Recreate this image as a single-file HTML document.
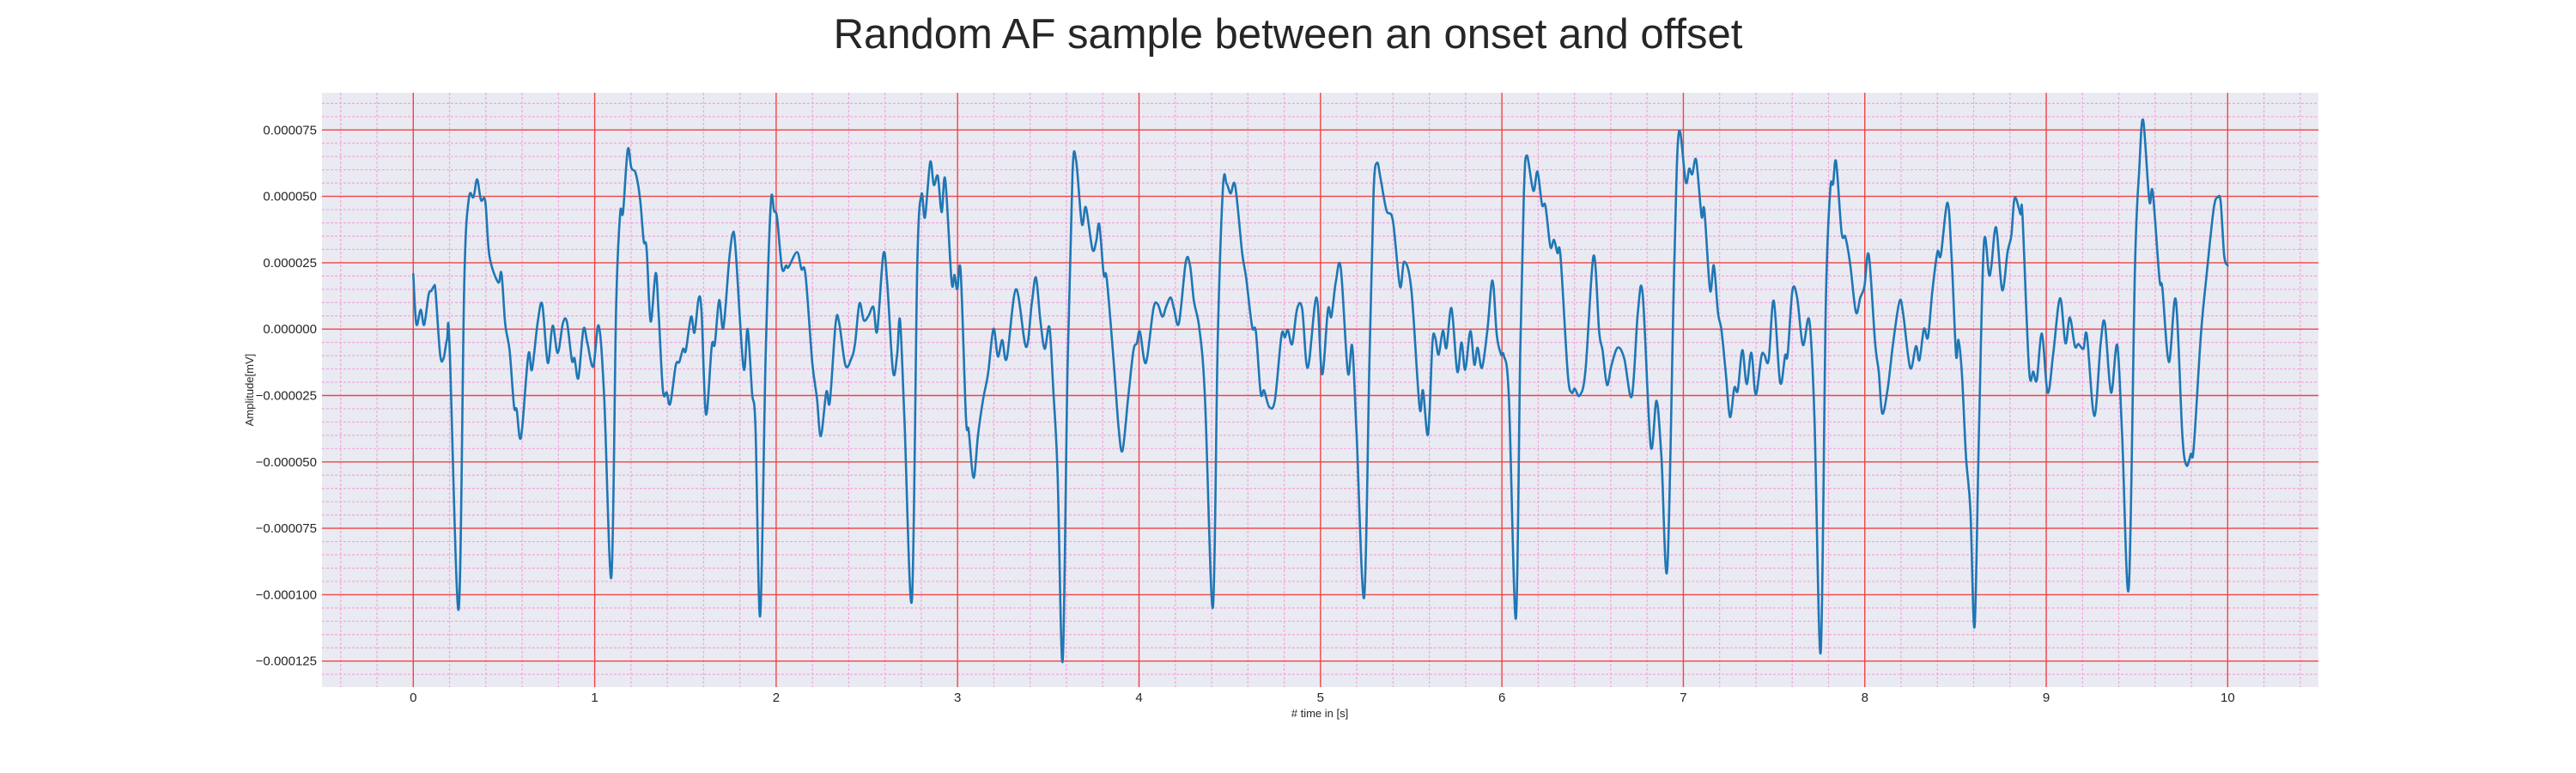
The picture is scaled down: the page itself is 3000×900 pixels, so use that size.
<!DOCTYPE html>
<html><head><meta charset="utf-8"><style>
html,body{margin:0;padding:0;background:#fff;}
svg{display:block;font-family:"Liberation Sans",Arial,sans-serif;}
</style></head><body>
<svg id="chart" width="3000" height="900" viewBox="0 0 3000 900" xmlns="http://www.w3.org/2000/svg">
<text x="1500" y="56" text-anchor="middle" font-size="49" fill="#262626">Random AF sample between an onset and offset</text>
<rect x="375" y="108" width="2325" height="692" fill="#eaeaf2"/>
<g id="grid-minor"></g>
<g id="grid-major"></g>
<g id="series"></g>
<g id="yticks"></g>
<g id="xticks"></g>
<text x="1537" y="835" text-anchor="middle" font-size="13" fill="#262626"># time in [s]</text>
<text transform="translate(295,454) rotate(-90)" text-anchor="middle" font-size="13" fill="#262626">Amplitude[mV]</text>
</svg>
<script>
const times = [0,.017,.041,.06,.085,.1,.114,.123,.148,.167,.186,.2,.25,.281,.306,.332,.352,.373,.397,.42,.468,.486,.507,.531,.555,.57,.594,.634,.654,.686,.711,.741,.768,.796,.825,.847,.874,.889,.91,.938,.96,.992,1.022,1.052,1.092,1.118,1.14,1.156,1.182,1.202,1.226,1.25,1.27,1.286,1.308,1.336,1.352,1.376,1.397,1.416,1.447,1.466,1.487,1.502,1.531,1.55,1.573,1.589,1.613,1.645,
1.662,1.686,1.709,1.741,1.76,1.776,1.82,1.843,1.867,1.886,1.912,1.942,1.97,1.989,2.005,2.032,2.055,2.068,2.115,2.139,2.162,2.199,2.225,2.246,2.277,2.296,2.328,2.347,2.382,2.415,2.435,2.459,2.483,2.509,2.536,2.557,2.591,2.612,2.644,2.667,2.683,2.707,2.748,2.778,2.801,2.82,2.849,2.869,2.891,2.912,2.932,2.967,2.983,2.998,3.017,3.046,3.061,3.088,3.113,3.14,3.168,3.198,3.222,3.246,3.271,
3.322,3.377,3.409,3.432,3.456,3.48,3.506,3.527,3.551,3.579,3.606,3.633,3.653,3.685,3.707,3.743,3.764,3.781,3.805,3.822,3.859,3.887,3.909,3.941,3.969,3.988,4.005,4.038,4.079,4.103,4.129,4.15,4.174,4.193,4.22,4.258,4.281,4.303,4.332,4.363,4.407,4.434,4.463,4.483,4.505,4.53,4.568,4.591,4.623,4.644,4.67,4.689,4.718,4.749,4.785,4.804,4.82,4.844,4.871,4.899,4.93,
4.978,5.009,5.041,5.06,5.085,5.112,5.151,5.175,5.199,5.241,5.27,5.293,5.312,5.332,5.364,5.399,5.438,5.462,5.501,5.546,5.565,5.593,5.617,5.632,5.651,5.675,5.694,5.722,5.754,5.777,5.798,5.826,5.848,5.866,5.89,5.92,5.948,5.972,5.996,6.011,6.038,6.077,6.101,6.121,6.137,6.173,6.196,6.221,6.24,6.267,6.287,6.306,6.323,6.363,6.385,6.401,6.429,6.461,6.505,6.536,6.555,6.579,6.603,
6.638,6.674,6.716,6.749,6.776,6.82,6.852,6.879,6.912,6.95,6.975,7.013,7.032,7.049,7.071,7.1,7.116,7.147,7.168,7.191,7.21,7.234,7.257,7.281,7.3,7.325,7.349,7.375,7.399,7.43,7.446,7.47,7.498,7.533,7.561,7.575,7.601,7.627,7.659,7.694,7.722,7.757,7.785,7.809,7.825,7.842,7.872,7.893,7.919,7.951,7.975,7.998,8.022,8.057,8.077,8.096,8.125,8.156,8.191,8.211,8.25,
8.282,8.301,8.326,8.348,8.372,8.4,8.419,8.456,8.479,8.503,8.516,8.535,8.558,8.582,8.605,8.629,8.656,8.684,8.697,8.724,8.757,8.787,8.808,8.826,8.858,8.869,8.905,8.929,8.948,8.976,9.008,9.039,9.076,9.106,9.13,9.158,9.177,9.205,9.224,9.265,9.3,9.323,9.357,9.391,9.418,9.455,9.489,9.513,9.534,9.568,9.587,9.624,9.64,9.676,9.714,9.75,9.773,9.797,9.813,9.852,9.884,9.923,9.947,9.962,9.981,10.0];
const amplitudesMicro = [20.7,1.9,7.3,1.6,13,14.4,16.1,14,-9.6,-11,-3.9,-6,-105.6,17.6,49,49.7,56.4,48.6,48,27.6,17.6,21,1.9,-8.1,-28.9,-30.3,-40.7,-9.6,-15.3,2.6,9.3,-12.7,1.3,-9,2.3,2.6,-11.7,-11,-18.4,0,-5.3,-14.1,1.3,-25.3,-93.4,7.6,43.3,44,67.6,60.7,58.7,49,33.3,30.4,2.9,21.1,6.1,-23.1,-23.9,-28.1,-13.6,-12.4,-7.4,-8.1,4.7,-1.3,11.6,6.1,-32.1,-6.4,
-5.6,10.9,0.4,26.1,35.9,30.4,-14.6,0,-23.9,-36.7,-108,-11,47,44.4,41.9,23,24,23.3,29,22.6,20.4,-12.4,-26,-40.3,-23.6,-27.4,2.3,2.6,-13.6,-11,-5.3,9.7,3.3,5,8.3,-0.7,28.3,17.6,-16,-9.6,3.3,-33.9,-102,24.7,50.7,42.1,62.9,54.3,57.6,44,56.4,18,20.4,15,21.6,-33.1,-38.1,-56,-39.6,-26.7,-16.7,0.1,-10.3,-4.1,-11,
15,-6.7,9.7,19.4,3.3,-7.4,0.7,-22.4,-53.9,-124.9,-13.9,58.3,63.6,39.7,45.9,30.1,33,39.4,20.7,19,-11,-36.7,-45.7,-25.3,-8.1,-5.3,-1,-12.7,7.6,9.4,4.7,8.6,11.9,7.6,2.3,25.4,24,10.4,0.4,-25.3,-104.9,-3.9,53.6,54.7,51.1,54,29,19,0.9,-1,-23.9,-23.1,-29.3,-26.7,-2.4,-3.1,-0.3,-5.6,7.6,7.6,-14.6,
11.9,-17,7.3,4.7,18,22.9,-16.3,-6.4,-39.6,-101,-11,51.9,62.6,56.4,44.7,40.9,16.1,25.4,14.7,-29.3,-23.1,-39.6,-5.3,-3.1,-9.6,-0.6,-7.1,7.9,-16,-5,-15.3,-0.7,-13.4,-7,-14.6,-0.3,18.3,-2.4,-9.6,-10,-25.3,-109,-8.1,51.1,65.4,52.1,59.3,46.9,46.4,31.1,33.6,28.7,27.3,-16.7,-23.9,-22.4,-25,-15.3,27.6,-1,-8.1,-21,-13.9,
-7,-11,-25.3,6.1,13,-43.9,-27,-48.1,-89.9,24.7,74,55.4,60.4,58.3,63.6,42.6,44.7,14.7,24,6.1,-0.3,-16.7,-33.1,-22.1,-23.1,-7.9,-20.7,-8.9,-24.6,-10.3,-9.6,-11.7,10.7,-20,-9.9,-9.6,14.4,11.9,-6,3.3,-32.4,-121.7,9,51.9,54.7,63,36.4,34.7,24.7,6.4,11.9,16.1,27.9,-5.3,-16,-31.7,-23.1,-5.3,10.4,6.1,-14.6,
-6.4,-11.7,0.1,-3.1,14,29,27.9,47.6,26.1,-9.6,-4.1,-16.7,-48.1,-68,-112,-39.6,31.9,20.7,23.3,38.3,14.7,29,35.4,49.4,43.3,42.6,-15,-16,-19.1,-1.7,-23.9,-8.9,11.6,-5.3,4.4,-6.4,-5.6,-7.4,-2.4,-32.7,-5.3,2.3,-23.9,-6,-39.6,-97.4,23.3,60.4,78.7,48.3,51.6,19,15.4,-12.4,11.1,-39.6,-51.3,-47,-44.6,-2.4,20.4,45.4,49.7,47.6,27.6,24];
const yTickValues = [-0.000125,-0.0001,-0.000075,-0.00005,-0.000025,0,0.000025,0.00005,0.000075];
const yTickLabels = ["\u22120.000125","\u22120.000100","\u22120.000075","\u22120.000050","\u22120.000025","0.000000","0.000025","0.000050","0.000075"];
const xTickValues = [0,1,2,3,4,5,6,7,8,9,10];
const xTickLabels = ["0","1","2","3","4","5","6","7","8","9","10"];

const PL=375, PR=2700, PT=108, PB=800;
const X0=-0.503, X1=10.5, Y0=-0.0001348, Y1=0.0000890;
function sx(t){return PL+(t-X0)/(X1-X0)*(PR-PL);}
function sy(v){return PB-(v-Y0)/(Y1-Y0)*(PB-PT);}
const NS="http://www.w3.org/2000/svg";
function mk(tag,parent){const e=document.createElementNS(NS,tag);parent.appendChild(e);return e;}

const gMin=document.getElementById('grid-minor');
for(let i=-2;i<=52;i++){const t=i*0.2; if(i%5===0) continue; const x=sx(t); if(x<PL||x>PR) continue;
  const l=mk('line',gMin);
  
  
  l.setAttribute('x1',x);l.setAttribute('x2',x);l.setAttribute('y1',PT);l.setAttribute('y2',PB);
  l.setAttribute('stroke','#f2a6dc');l.setAttribute('stroke-width','1.2');l.setAttribute('stroke-dasharray','3,2');}
for(let i=-27;i<=18;i++){ if(i%5===0) continue; const v=i*0.000005; const y=sy(v); if(y<PT||y>PB) continue;
  const l=mk('line',gMin);
  
  
  l.setAttribute('x1',PL);l.setAttribute('x2',PR);l.setAttribute('y1',y);l.setAttribute('y2',y);
  l.setAttribute('stroke','#f2a6dc');l.setAttribute('stroke-width','1.2');l.setAttribute('stroke-dasharray','3,2');}

const gMaj=document.getElementById('grid-major');
const gY=document.getElementById('yticks'), gX=document.getElementById('xticks');
yTickValues.forEach((v,i)=>{const y=sy(v);
  const l=mk('line',gMaj);
  
  
  l.setAttribute('x1',PL);l.setAttribute('x2',PR);l.setAttribute('y1',y);l.setAttribute('y2',y);
  l.setAttribute('stroke','#ee4444');l.setAttribute('stroke-width','1.4');
  const t=mk('text',gY);
  
  
  t.setAttribute('x',369);t.setAttribute('y',y+5);t.setAttribute('text-anchor','end');t.setAttribute('font-size','15');t.setAttribute('fill','#262626');
  t.textContent=yTickLabels[i];});
xTickValues.forEach((v,i)=>{const x=sx(v);
  const l=mk('line',gMaj);
  
  
  l.setAttribute('x1',x);l.setAttribute('x2',x);l.setAttribute('y1',PT);l.setAttribute('y2',PB);
  l.setAttribute('stroke','#ee4444');l.setAttribute('stroke-width','1.4');
  const t=mk('text',gX);
  
  
  t.setAttribute('x',x);t.setAttribute('y',817);t.setAttribute('text-anchor','middle');t.setAttribute('font-size','15');t.setAttribute('fill','#262626');
  t.textContent=xTickLabels[i];});

// smooth Catmull-Rom path through data points
const pts=times.map((t,i)=>[sx(t),sy(amplitudesMicro[i]*1e-6)]);
let d='M'+pts[0][0].toFixed(1)+','+pts[0][1].toFixed(1);
for(let i=0;i<pts.length-1;i++){
  const p0=pts[Math.max(0,i-1)],p1=pts[i],p2=pts[i+1],p3=pts[Math.min(pts.length-1,i+2)];
  const c1=[p1[0]+(p2[0]-p0[0])/6,p1[1]+(p2[1]-p0[1])/6];
  const c2=[p2[0]-(p3[0]-p1[0])/6,p2[1]-(p3[1]-p1[1])/6];
  d+='C'+c1[0].toFixed(1)+','+c1[1].toFixed(1)+' '+c2[0].toFixed(1)+','+c2[1].toFixed(1)+' '+p2[0].toFixed(1)+','+p2[1].toFixed(1);
}
const path=mk('path',document.getElementById('series'));


path.setAttribute('d',d);path.setAttribute('fill','none');path.setAttribute('stroke','#1f77b4');
path.setAttribute('stroke-width','2.6');path.setAttribute('stroke-linejoin','round');path.setAttribute('stroke-linecap','round');
</script>
</body></html>
